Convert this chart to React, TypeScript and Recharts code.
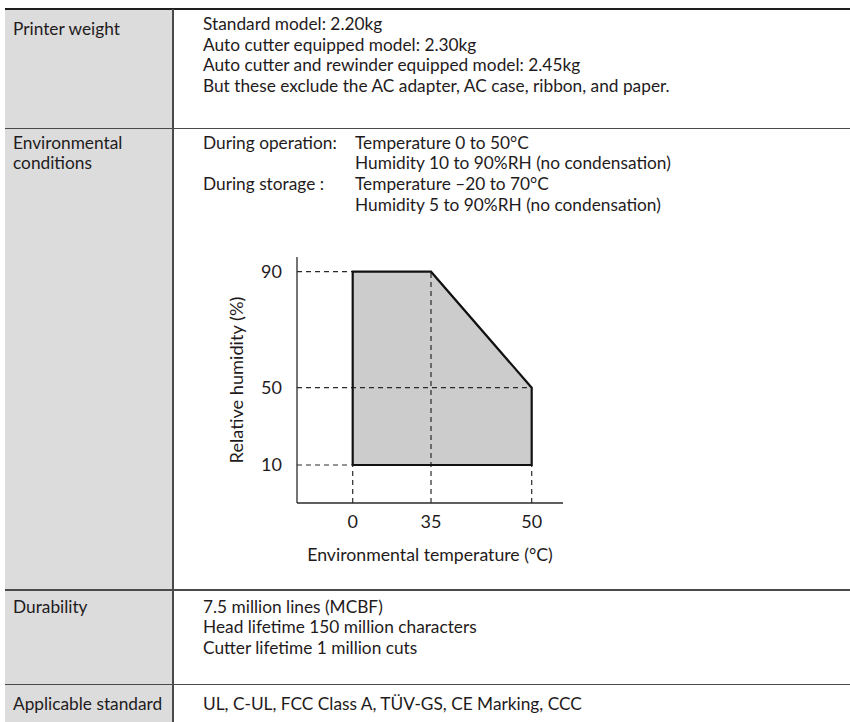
import React from 'react';
import { ComposedChart, Area, Line, XAxis, YAxis, ReferenceLine } from 'recharts';

// ---- data ----
const temperatureTicks = [0, 35, 50];
const humidityTicks = [10, 50, 90];
const envelopeTemp = [0, 35, 50];
const envelopeLower = [10, 10, 10];
const envelopeUpper = [90, 90, 50];
const outlineTemp = [0, 0, 35, 50, 50, 0];
const outlineHumidity = [10, 90, 90, 50, 10, 10];
const tempAxisDomain = [-20, 60];
const humAxisDomain = [-10, 100];
// schematic (non-uniform) axis knots as drawn in the reference
const tempKnots = [-20, 0, 35, 50, 60];
const tempKnotFrac = [0, 0.2094, 0.5038, 0.8823, 1];
const humKnots = [-10, 10, 50, 90, 100];
const humKnotFrac = [0, 0.1545, 0.4687, 0.9402, 1];

const weightLines = [
  'Standard model: 2.20kg',
  'Auto cutter equipped model: 2.30kg',
  'Auto cutter and rewinder equipped model: 2.45kg',
  'But these exclude the AC adapter, AC case, ribbon, and paper.',
];
const envLines: [string, string][] = [
  ['During operation:', 'Temperature 0 to 50°C'],
  ['', 'Humidity 10 to 90%RH (no condensation)'],
  ['During storage :', 'Temperature –20 to 70°C'],
  ['', 'Humidity 5 to 90%RH (no condensation)'],
];
const durabilityLines = [
  '7.5 million lines (MCBF)',
  'Head lifetime 150 million characters',
  'Cutter lifetime 1 million cuts',
];
const standardText = 'UL, C-UL, FCC Class A, TÜV-GS, CE Marking, CCC';

const envelopeRows = envelopeTemp.map((t, i) => ({ t, band: [envelopeLower[i], envelopeUpper[i]] }));
const outlineRows = outlineTemp.map((t, i) => ({ t, h: outlineHumidity[i] }));

function piecewiseScale(knots: number[], fracs: number[]): any {
  let dom: number[] = [knots[0], knots[knots.length - 1]];
  let rng: number[] = [0, 1];
  const toFrac = (v: number) => {
    const n = knots.length;
    let i = 0;
    if (v <= knots[0]) i = 0;
    else if (v >= knots[n - 1]) i = n - 2;
    else {
      while (i < n - 2 && v > knots[i + 1]) i++;
    }
    return fracs[i] + ((v - knots[i]) * (fracs[i + 1] - fracs[i])) / (knots[i + 1] - knots[i]);
  };
  const scale: any = (v: number) => rng[0] + toFrac(Number(v)) * (rng[1] - rng[0]);
  scale.domain = (d?: number[]) => {
    if (d === undefined) return dom.slice();
    dom = d.slice();
    return scale;
  };
  scale.range = (r?: number[]) => {
    if (r === undefined) return rng.slice();
    rng = r.slice();
    return scale;
  };
  scale.copy = () => piecewiseScale(knots, fracs).domain(dom).range(rng);
  scale.ticks = () => knots.slice(1, -1);
  scale.tickFormat = () => (v: number) => String(v);
  scale.invert = (px: number) => {
    const f = (px - rng[0]) / (rng[1] - rng[0]);
    const n = fracs.length;
    let i = 0;
    while (i < n - 2 && f > fracs[i + 1]) i++;
    return knots[i] + ((f - fracs[i]) * (knots[i + 1] - knots[i])) / (fracs[i + 1] - fracs[i]);
  };
  scale.clamp = () => scale;
  scale.nice = () => scale;
  return scale;
}

const tempScale = piecewiseScale(tempKnots, tempKnotFrac);
const humScale = piecewiseScale(humKnots, humKnotFrac);

const FONT = 'Lato, "Noto Sans", sans-serif';
const TEXT = '#1f1b1c';
const LINE_H = 20.7;

const abs = (left: number, top: number, width: number, height: number, extra: React.CSSProperties = {}): React.CSSProperties => ({
  position: 'absolute', left, top, width, height, ...extra,
});

function TextBlock({ left, top, lines }: { left: number; top: number; lines: string[] }) {
  return (
    <div style={{ position: 'absolute', left, top, lineHeight: `${LINE_H}px`, whiteSpace: 'nowrap' }}>
      {lines.map((l, i) => (
        <div key={i}>{l}</div>
      ))}
    </div>
  );
}

const guide = { stroke: '#2a2a2a', strokeWidth: 1.2, strokeDasharray: '5 4' };

function HumidityChart() {
  const tick = { fill: TEXT, fontSize: 18, fontFamily: FONT };
  return (
    <ComposedChart
      width={420}
      height={330}
      data={envelopeRows}
      margin={{ top: 7, right: 37, bottom: 17, left: 0 }}
    >
      <XAxis
        dataKey="t"
        type="number"
        scale={tempScale}
        domain={tempAxisDomain}
        ticks={temperatureTicks}
        interval={0}
        allowDataOverflow
        tickLine={false}
        tickSize={6}
        tickMargin={6}
        height={60}
        axisLine={{ stroke: '#2a2a2a', strokeWidth: 1.3 }}
        tick={tick}
        label={{ value: 'Environmental temperature (°C)', position: 'insideBottom', offset: 2, fill: TEXT, fontSize: 17.7, fontFamily: FONT }}
      />
      <YAxis
        type="number"
        scale={humScale}
        domain={humAxisDomain}
        ticks={humidityTicks}
        interval={0}
        allowDataOverflow
        tickLine={false}
        tickSize={9}
        tickMargin={6}
        width={117}
        axisLine={{ stroke: '#2a2a2a', strokeWidth: 1.3 }}
        tick={tick}
        label={{ value: 'Relative humidity (%)', angle: -90, position: 'insideLeft', offset: 57, fill: TEXT, fontSize: 18.2, fontFamily: FONT, style: { textAnchor: 'middle' } }}
      />
      <Area dataKey="band" type="linear" fill="#cccccc" fillOpacity={1} stroke="none" isAnimationActive={false} />
      <ReferenceLine segment={[{ x: tempAxisDomain[0], y: humidityTicks[2] }, { x: temperatureTicks[0], y: humidityTicks[2] }]} {...guide} />
      <ReferenceLine segment={[{ x: tempAxisDomain[0], y: humidityTicks[1] }, { x: temperatureTicks[2], y: humidityTicks[1] }]} {...guide} />
      <ReferenceLine segment={[{ x: tempAxisDomain[0], y: humidityTicks[0] }, { x: temperatureTicks[0], y: humidityTicks[0] }]} {...guide} />
      <ReferenceLine segment={[{ x: temperatureTicks[0], y: humAxisDomain[0] }, { x: temperatureTicks[0], y: humidityTicks[0] }]} {...guide} />
      <ReferenceLine segment={[{ x: temperatureTicks[1], y: humAxisDomain[0] }, { x: temperatureTicks[1], y: humidityTicks[2] }]} {...guide} />
      <ReferenceLine segment={[{ x: temperatureTicks[2], y: humAxisDomain[0] }, { x: temperatureTicks[2], y: humidityTicks[0] }]} {...guide} />
      <Line
        data={outlineRows}
        dataKey="h"
        type="linear"
        stroke="#111"
        strokeWidth={2.2}
        strokeLinejoin="miter"
        dot={false}
        activeDot={false}
        isAnimationActive={false}
      />
    </ComposedChart>
  );
}

export default function App() {
  const lineColor = '#4a4a4a';
  return (
    <div style={{ position: 'absolute', left: 0, top: 0, width: 850, height: 722, overflow: 'hidden', fontFamily: FONT, fontSize: 17.3, color: TEXT, background: '#fff' }}>
      {/* left header column */}
      <div style={abs(5, 9, 167, 713, { background: '#dcdcdd' })} />
      {/* borders */}
      <div style={abs(5, 7.5, 845, 2, { background: '#1e1e1e' })} />
      <div style={abs(172, 9, 2, 713, { background: lineColor })} />
      <div style={abs(5, 127.5, 845, 1.6, { background: lineColor })} />
      <div style={abs(5, 588.8, 845, 1.8, { background: lineColor })} />
      <div style={abs(5, 683.8, 845, 1.6, { background: lineColor })} />

      {/* row 1 */}
      <TextBlock left={13} top={18.5} lines={['Printer weight']} />
      <TextBlock left={203} top={14} lines={weightLines} />

      {/* row 2 */}
      <TextBlock left={13} top={132.5} lines={['Environmental', 'conditions']} />
      <div style={{ position: 'absolute', left: 203, top: 132.5, lineHeight: `${LINE_H}px`, whiteSpace: 'nowrap' }}>
        {envLines.map(([a, b], i) => (
          <div key={i} style={{ position: 'relative', height: LINE_H }}>
            <span style={{ position: 'absolute', left: 0 }}>{a}</span>
            <span style={{ position: 'absolute', left: 152 }}>{b}</span>
          </div>
        ))}
      </div>
      <div style={abs(180, 250, 420, 330)}>
        <HumidityChart />
      </div>

      {/* row 3 */}
      <TextBlock left={13} top={596.5} lines={['Durability']} />
      <TextBlock left={203} top={596.5} lines={durabilityLines} />

      {/* row 4 */}
      <TextBlock left={13} top={693.5} lines={['Applicable standard']} />
      <TextBlock left={203} top={693.5} lines={[standardText]} />
    </div>
  );
}
